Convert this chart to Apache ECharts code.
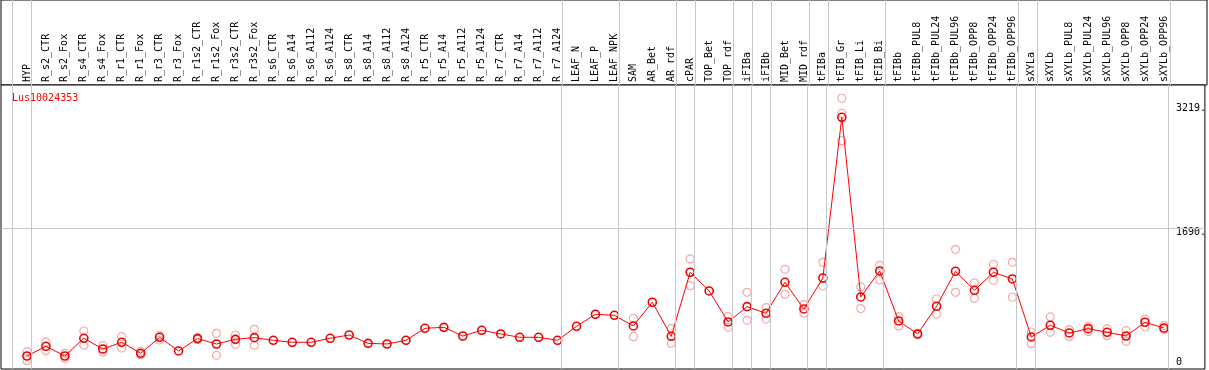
<!DOCTYPE html>
<html><head><meta charset="utf-8">
<script src="https://cdn.jsdelivr.net/npm/echarts@6/dist/echarts.min.js"></script>
<style>html,body{margin:0;padding:0;background:#fff}#c{width:1209px;height:370px}</style>
</head><body><div id="c"></div>
<script>
const categories = ["HYP","R_s2_CTR","R_s2_Fox","R_s4_CTR","R_s4_Fox","R_r1_CTR","R_r1_Fox","R_r3_CTR","R_r3_Fox","R_r1s2_CTR","R_r1s2_Fox","R_r3s2_CTR","R_r3s2_Fox","R_s6_CTR","R_s6_A14","R_s6_A112","R_s6_A124","R_s8_CTR","R_s8_A14","R_s8_A112","R_s8_A124","R_r5_CTR","R_r5_A14","R_r5_A112","R_r5_A124","R_r7_CTR","R_r7_A14","R_r7_A112","R_r7_A124","LEAF_N","LEAF_P","LEAF_NPK","SAM","AR_Bet","AR_rdf","cPAR","TOP_Bet","TOP_rdf","iFIBa","iFIBb","MID_Bet","MID_rdf","tFIBa","tFIB_Gr","tFIB_Li","tFIB_Bi","tFIBb","tFIBb_PUL8","tFIBb_PUL24","tFIBb_PUL96","tFIBb_OPP8","tFIBb_OPP24","tFIBb_OPP96","sXYLa","sXYLb","sXYLb_PUL8","sXYLb_PUL24","sXYLb_PUL96","sXYLb_OPP8","sXYLb_OPP24","sXYLb_OPP96"];
const means = [122,241,122,339,208,290,155,351,184,335,269,326,347,314,290,290,339,379,277,269,314,461,473,367,437,392,351,351,314,486,633,620,490,780,363,1147,918,539,726,645,1024,698,1077,3044,845,1163,551,392,731,1159,926,1147,1065,355,498,404,457,412,367,535,465];
const rep1 = [175,294,155,428,249,359,180,371,null,347,400,379,449,null,null,null,null,null,null,null,null,null,null,null,null,null,null,null,null,null,null,null,584,null,457,1310,null,604,902,714,1183,750,1269,3277,967,1232,604,380,820,1428,1016,1245,1269,416,600,445,486,457,432,575,493];
const rep2 = [65,187,94,253,171,220,138,318,null,322,131,265,253,null,null,null,null,null,null,null,null,null,null,null,null,null,null,null,null,null,null,null,359,null,278,983,null,473,559,575,877,645,979,2758,702,1053,490,400,633,902,828,1049,841,273,412,359,420,371,302,477,445];
const rep3 = [null,null,null,null,null,null,null,null,null,null,null,null,null,null,null,null,null,null,null,null,null,null,null,null,null,null,null,null,null,null,null,null,null,null,null,null,null,null,null,null,null,null,null,3093,null,null,null,null,null,null,null,null,null,null,null,null,null,null,null,null,null];
const groupBounds = [-1,0,28,31,34,35,37,38,39,41,42,45,52,53,60];
const yTicks = [0,1690,3219];
const geneId = "Lus10024353";

const FONT = "DejaVu Sans Mono";
const meanData = means.map((v,i)=>[i,v]);
const repData = [];
[rep1,rep2,rep3].forEach(r=>r.forEach((v,i)=>{ if(v!=null) repData.push([i,v]); }));
const vLines = groupBounds.map(b=>({xAxis:b+0.195}));
const XMIN=-1.37, XMAX=62.16;

const chart = echarts.init(document.getElementById('c'), null, {renderer:'canvas'});
chart.setOption({
  animation:false,
  backgroundColor:'#fff',
  title:{text:geneId,left:7,top:88,textStyle:{color:'#ff0000',fontFamily:FONT,fontSize:10,fontWeight:'normal'}},
  grid:[
    {left:1,right:2,top:0,height:85,show:true,borderColor:'#000',borderWidth:1,backgroundColor:'#fff'},
    {left:1,right:2,top:85,bottom:1,show:true,borderColor:'#000',borderWidth:1,backgroundColor:'#fff'}
  ],
  xAxis:[
    {gridIndex:0,type:'value',min:XMIN,max:XMAX,show:false},
    {gridIndex:1,type:'value',min:XMIN,max:XMAX,position:'top',
     axisLine:{show:false},axisTick:{show:false},splitLine:{show:false},
     axisLabel:{show:true,customValues:categories.map((c,i)=>i),rotate:90,margin:3,
       fontFamily:FONT,fontSize:10,color:'#000',formatter:v=>categories[Math.round(v)]}}
  ],
  yAxis:[
    {gridIndex:0,type:'value',min:0,max:1,show:false},
    {gridIndex:1,type:'value',min:-37,max:3439,position:'right',
     axisLine:{show:false},axisTick:{show:false},splitLine:{show:false},
     axisLabel:{show:true,inside:true,customValues:yTicks,align:'left',margin:29,
       fontFamily:FONT,fontSize:10,color:'#000',
       formatter:v=> v===0 ? '{lo|0}' : '{hi|'+v+'.}',
       rich:{lo:{fontFamily:FONT,fontSize:10,color:'#000',padding:[0,0,8,0]},
             hi:{fontFamily:FONT,fontSize:10,color:'#000',padding:[10,0,0,0]}}}}
  ],
  series:[
    {type:'scatter',xAxisIndex:0,yAxisIndex:0,data:[],silent:true,
     markLine:{silent:true,symbol:'none',label:{show:false},animation:false,
       lineStyle:{color:'#c8c8c8',type:'solid',width:1},data:vLines}},
    {type:'scatter',xAxisIndex:1,yAxisIndex:1,data:repData,silent:true,z:2,
     symbol:'circle',symbolSize:8,
     itemStyle:{color:'rgba(0,0,0,0)',borderColor:'#f09494',borderWidth:1.2},
     markLine:{silent:true,symbol:'none',label:{show:false},animation:false,
       lineStyle:{color:'#c8c8c8',type:'solid',width:1},
       data:vLines.concat([{yAxis:1690}])}},
    {type:'line',xAxisIndex:1,yAxisIndex:1,data:meanData,silent:true,z:3,
     symbol:'circle',symbolSize:8,showAllSymbol:true,
     lineStyle:{color:'#ff0000',width:1},
     itemStyle:{color:'rgba(0,0,0,0)',borderColor:'#ee0000',borderWidth:1.6}}
  ]
});
</script></body></html>
